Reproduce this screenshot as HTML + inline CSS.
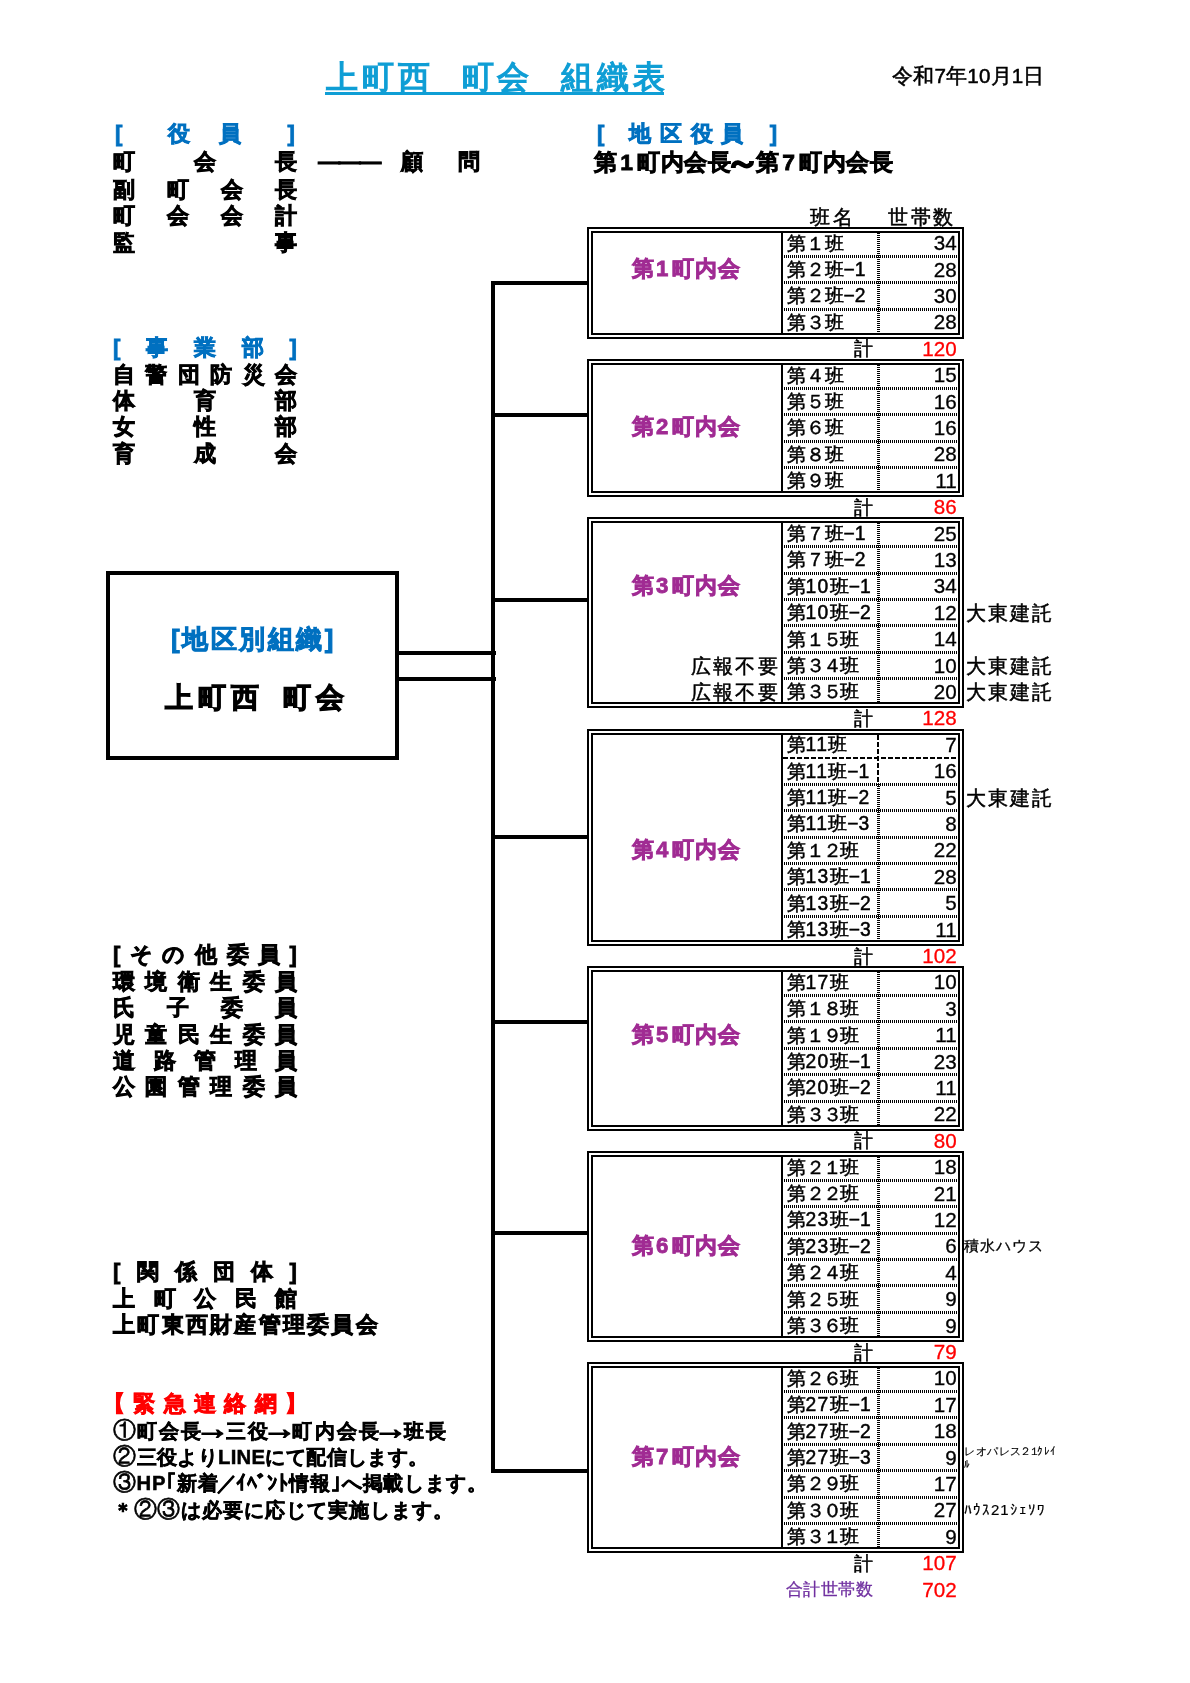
<!DOCTYPE html>
<html lang="ja">
<head>
<meta charset="utf-8">
<title>上町西 町会 組織表</title>
<style>
html,body{margin:0;padding:0;background:#fff;}
body{width:1190px;height:1683px;position:relative;overflow:hidden;will-change:transform;font-family:"Liberation Sans",sans-serif;color:#000;}
.abs,.l,.t,.n,.k,.lab,.note,.bx,.vl,.dv,.dh,.ln,.r{position:absolute;}
.l{left:113px;width:184px;height:26px;line-height:26px;font-size:22.2px;font-weight:bold;-webkit-text-stroke:0.8px;white-space:nowrap;text-align:justify;text-align-last:justify;}
.l.free{width:auto;text-align:left;text-align-last:auto;letter-spacing:1.3px;}
.blue{color:#0070C0;}
.red{color:#FF0000;}
.bx{left:587px;width:365px;border:6px double #000;}
.vl{left:781px;width:2px;background:#000;}
.dv{left:877px;width:3px;background:repeating-linear-gradient(180deg,#000 0,#000 1px,transparent 1px,transparent 2px);}
.dh{left:784px;width:173px;height:3px;background:repeating-linear-gradient(90deg,#000 0,#000 1px,transparent 1px,transparent 2px);}
.r{height:26px;line-height:26px;font-size:19.3px;letter-spacing:0;-webkit-text-stroke:0.5px;white-space:nowrap;}
.t{left:786.5px;height:26px;line-height:26px;font-size:19.3px;letter-spacing:0;-webkit-text-stroke:0.5px;white-space:nowrap;}
.n{left:880px;width:76.6px;height:26px;line-height:26px;font-size:20.6px;-webkit-text-stroke:0.3px;text-align:right;white-space:nowrap;margin-top:0.3px;}
.k{left:783px;width:90px;height:26px;line-height:26px;font-size:19.3px;-webkit-text-stroke:0.5px;text-align:right;}
.lab{left:590px;width:193px;height:26px;line-height:26px;font-size:22.2px;letter-spacing:1.3px;font-weight:bold;-webkit-text-stroke:0.8px;color:#A02B93;text-align:center;white-space:nowrap;}
.lab span{margin:0 2px 0 1px;}
.note{left:965.5px;height:26px;line-height:26px;font-size:19.8px;letter-spacing:2.3px;-webkit-text-stroke:0.5px;white-space:nowrap;}
.l.p{font-size:20.3px;-webkit-text-stroke:0.5px;}
.a{display:inline-block;transform:translateY(-2.5px) scale(1.7,1.5);-webkit-text-stroke:0.9px;}
.c{font-weight:normal;font-size:22.5px;letter-spacing:0;-webkit-text-stroke:0.7px;margin-right:0.5px;}
.d{margin:0 3px 0 2.5px;}
.h{letter-spacing:1.4px;}
.f{letter-spacing:-2px;}
.w{display:inline-block;transform:scale(1.55,1.5);}
.ln{background:#000;}
</style>
</head>
<body>
<div class="abs" id="title" style="left:326px;top:57px;height:40px;line-height:40px;font-size:32.2px;letter-spacing:3.9px;-webkit-text-stroke:1.4px;color:#0F9ED5;white-space:nowrap;word-spacing:15px;">上町西 町会 組織表</div>
<div class="abs" style="left:325px;top:92px;width:339px;height:3px;background:#0F9ED5;"></div>
<div class="r" id="date" style="left:892px;top:63px;font-size:20.6px;letter-spacing:0.2px;">令和7年10月1日</div>
<div class="l blue" style="left:115px;top:120.8px;text-align-last:auto;text-align:left;">[<span style="margin-left:46px">役</span><span style="margin-left:29px">員</span><span style="margin-left:46px">]</span></div>
<div class="l " style="top:149.4px;">町会長</div>
<div class="l free" style="left:318px;top:149.4px;letter-spacing:0;"><span style="letter-spacing:-1.6px">―――</span><span style="margin-left:21px">顧</span><span style="margin-left:35px">問</span></div>
<div class="l " style="top:176.7px;">副町会長</div>
<div class="l " style="top:203.1px;">町会会計</div>
<div class="l " style="top:229.5px;">監事</div>
<div class="l blue" style="top:335.1px;">[事業部]</div>
<div class="l " style="top:361.5px;">自警団防災会</div>
<div class="l " style="top:387.9px;">体育部</div>
<div class="l " style="top:414.3px;">女性部</div>
<div class="l " style="top:440.7px;">育成会</div>
<div class="l " style="top:942.3px;">[その他委員]</div>
<div class="l " style="top:968.7px;">環境衛生委員</div>
<div class="l " style="top:995.1px;">氏子委員</div>
<div class="l " style="top:1021.5px;">児童民生委員</div>
<div class="l " style="top:1047.9px;">道路管理員</div>
<div class="l " style="top:1074.3px;">公園管理委員</div>
<div class="l " style="top:1259.1px;">[関係団体]</div>
<div class="l " style="top:1285.5px;">上町公民館</div>
<div class="l free" style="top:1311.9px;letter-spacing:2.25px;">上町東西財産管理委員会</div>
<div class="l red" style="top:1391.1px;"><span style="margin-left:-10px">【</span>緊急連絡網<span style="margin-right:-10px">】</span></div>
<div class="l free p" style="top:1417.5px;letter-spacing:2.2px;"><span class="c">①</span>町会長<span class="a">→</span>三役<span class="a">→</span>町内会長<span class="a">→</span>班長</div>
<div class="l free p" style="top:1443.9px;letter-spacing:0.35px;"><span class="c">②</span>三役よりLINEにて配信します。</div>
<div class="l free p" style="top:1470.3px;letter-spacing:0.85px;"><span class="c">③</span>HP｢新着<span style="margin:0 -2px">／</span>ｲﾍﾞﾝﾄ情報｣へ掲載します。</div>
<div class="l free p" style="top:1496.7px;letter-spacing:1.0px;">＊<span class="c">②③</span>は必要に応じて実施します。</div>
<div class="l free blue" style="left:597px;top:120.8px;letter-spacing:0;">[<span style="margin-left:25px;letter-spacing:8.6px">地区役員</span><span style="margin-left:18px">]</span></div>
<div class="l free" style="left:594px;top:149.4px;font-size:22.9px;letter-spacing:0.8px;">第<span class="d">1</span>町内会長<span class="w">～</span>第<span class="d">7</span>町内会長</div>
<div class="r" style="left:810px;top:203.6px;font-size:19.5px;letter-spacing:2.7px;">班名</div>
<div class="r" style="left:888px;top:203.6px;font-size:19.5px;letter-spacing:2.7px;">世帯数</div>
<div class="abs bigbox" style="left:106px;top:571px;width:285px;height:181px;border:4px solid #000;"></div>
<div class="abs blue" style="left:110px;width:287px;top:623px;height:32px;line-height:32px;font-size:26px;letter-spacing:2.5px;font-weight:bold;-webkit-text-stroke:0.9px;text-align:center;white-space:nowrap;">[地区別組織]</div>
<div class="abs" style="left:113px;width:288px;top:678.5px;height:38px;line-height:38px;font-size:27.5px;letter-spacing:5px;font-weight:bold;-webkit-text-stroke:1.1px;text-align:center;white-space:nowrap;word-spacing:5.9px;">上町西 町会</div>
<div class="ln" style="left:399px;top:651px;width:97px;height:4px;"></div>
<div class="ln" style="left:399px;top:677px;width:97px;height:4px;"></div>
<div class="ln" style="left:491px;top:281px;width:4px;height:1192px;"></div>
<div class="ln" style="left:491px;top:281px;width:96px;height:4px;"></div>
<div class="ln" style="left:491px;top:413px;width:96px;height:4px;"></div>
<div class="ln" style="left:491px;top:598px;width:96px;height:4px;"></div>
<div class="ln" style="left:491px;top:835px;width:96px;height:4px;"></div>
<div class="ln" style="left:491px;top:1020px;width:96px;height:4px;"></div>
<div class="ln" style="left:491px;top:1231px;width:96px;height:4px;"></div>
<div class="ln" style="left:491px;top:1469px;width:96px;height:4px;"></div>
<div class="bx" style="top:227px;height:100px;"></div>
<div class="vl" style="top:233px;height:100px;"></div>
<div class="dv" style="top:233px;height:100px;"></div>
<div class="dh" style="top:255px;"></div>
<div class="dh" style="top:281px;"></div>
<div class="dh" style="top:308px;"></div>
<div class="lab" style="top:255.9px;">第<span>1</span>町内会</div>
<div class="t" style="top:230.5px;">第１班</div><div class="n" style="top:230.0px;">34</div>
<div class="t" style="top:256.9px;">第２班−1</div><div class="n" style="top:256.4px;">28</div>
<div class="t" style="top:283.3px;">第２班−2</div><div class="n" style="top:282.8px;">30</div>
<div class="t" style="top:309.7px;">第３班</div><div class="n" style="top:309.2px;">28</div>
<div class="k" style="top:336.4px;">計</div><div class="n red" style="top:335.6px;">120</div>
<div class="bx" style="top:359px;height:126px;"></div>
<div class="vl" style="top:365px;height:126px;"></div>
<div class="dv" style="top:365px;height:126px;"></div>
<div class="dh" style="top:387px;"></div>
<div class="dh" style="top:413px;"></div>
<div class="dh" style="top:440px;"></div>
<div class="dh" style="top:466px;"></div>
<div class="lab" style="top:414.3px;">第<span>2</span>町内会</div>
<div class="t" style="top:362.5px;">第４班</div><div class="n" style="top:362.0px;">15</div>
<div class="t" style="top:388.9px;">第５班</div><div class="n" style="top:388.4px;">16</div>
<div class="t" style="top:415.3px;">第６班</div><div class="n" style="top:414.8px;">16</div>
<div class="t" style="top:441.7px;">第８班</div><div class="n" style="top:441.2px;">28</div>
<div class="t" style="top:468.1px;">第９班</div><div class="n" style="top:467.6px;">11</div>
<div class="k" style="top:494.8px;">計</div><div class="n red" style="top:494.0px;">86</div>
<div class="bx" style="top:517px;height:179px;"></div>
<div class="vl" style="top:523px;height:179px;"></div>
<div class="dv" style="top:523px;height:179px;"></div>
<div class="dh" style="top:545px;"></div>
<div class="dh" style="top:572px;"></div>
<div class="dh" style="top:598px;"></div>
<div class="dh" style="top:624px;"></div>
<div class="dh" style="top:651px;"></div>
<div class="dh" style="top:677px;"></div>
<div class="lab" style="top:572.7px;">第<span>3</span>町内会</div>
<div class="t" style="top:520.9px;">第７班−1</div><div class="n" style="top:520.4px;">25</div>
<div class="t" style="top:547.3px;">第７班−2</div><div class="n" style="top:546.8px;">13</div>
<div class="t" style="top:573.7px;">第<span class="h">10</span>班−1</div><div class="n" style="top:573.2px;">34</div>
<div class="t" style="top:600.1px;">第<span class="h">10</span>班−2</div><div class="n" style="top:599.6px;">12</div>
<div class="t" style="top:626.5px;">第<span class="f">１５</span>班</div><div class="n" style="top:626.0px;">14</div>
<div class="t" style="top:652.9px;">第<span class="f">３４</span>班</div><div class="n" style="top:652.4px;">10</div>
<div class="t" style="top:679.3px;">第<span class="f">３５</span>班</div><div class="n" style="top:678.8px;">20</div>
<div class="k" style="top:706.0px;">計</div><div class="n red" style="top:705.2px;">128</div>
<div class="bx" style="top:729px;height:205px;"></div>
<div class="vl" style="top:735px;height:205px;"></div>
<div class="abs dsh" style="left:877px;width:2px;top:735px;height:49px;background:repeating-linear-gradient(180deg,#000 0,#000 5px,transparent 5px,transparent 7px);"></div>
<div class="dv" style="top:784px;height:156px;"></div>
<div class="abs dsh" style="left:783px;width:175px;top:757px;height:2px;background:repeating-linear-gradient(90deg,#000 0,#000 5px,transparent 5px,transparent 7px);"></div>
<div class="dh" style="top:783px;"></div>
<div class="dh" style="top:809px;"></div>
<div class="dh" style="top:836px;"></div>
<div class="dh" style="top:862px;"></div>
<div class="dh" style="top:888px;"></div>
<div class="dh" style="top:915px;"></div>
<div class="lab" style="top:836.7px;">第<span>4</span>町内会</div>
<div class="t" style="top:732.1px;">第<span class="h">11</span>班</div><div class="n" style="top:731.6px;">7</div>
<div class="t" style="top:758.5px;">第<span class="h">11</span>班−1</div><div class="n" style="top:758.0px;">16</div>
<div class="t" style="top:784.9px;">第<span class="h">11</span>班−2</div><div class="n" style="top:784.4px;">5</div>
<div class="t" style="top:811.3px;">第<span class="h">11</span>班−3</div><div class="n" style="top:810.8px;">8</div>
<div class="t" style="top:837.7px;">第<span class="f">１２</span>班</div><div class="n" style="top:837.2px;">22</div>
<div class="t" style="top:864.1px;">第<span class="h">13</span>班−1</div><div class="n" style="top:863.6px;">28</div>
<div class="t" style="top:890.5px;">第<span class="h">13</span>班−2</div><div class="n" style="top:890.0px;">5</div>
<div class="t" style="top:916.9px;">第<span class="h">13</span>班−3</div><div class="n" style="top:916.4px;">11</div>
<div class="k" style="top:943.6px;">計</div><div class="n red" style="top:942.8px;">102</div>
<div class="bx" style="top:966px;height:153px;"></div>
<div class="vl" style="top:972px;height:153px;"></div>
<div class="dv" style="top:972px;height:153px;"></div>
<div class="dh" style="top:994px;"></div>
<div class="dh" style="top:1020px;"></div>
<div class="dh" style="top:1047px;"></div>
<div class="dh" style="top:1073px;"></div>
<div class="dh" style="top:1100px;"></div>
<div class="lab" style="top:1021.5px;">第<span>5</span>町内会</div>
<div class="t" style="top:969.7px;">第<span class="h">17</span>班</div><div class="n" style="top:969.2px;">10</div>
<div class="t" style="top:996.1px;">第<span class="f">１８</span>班</div><div class="n" style="top:995.6px;">3</div>
<div class="t" style="top:1022.5px;">第<span class="f">１９</span>班</div><div class="n" style="top:1022.0px;">11</div>
<div class="t" style="top:1048.9px;">第<span class="h">20</span>班−1</div><div class="n" style="top:1048.4px;">23</div>
<div class="t" style="top:1075.3px;">第<span class="h">20</span>班−2</div><div class="n" style="top:1074.8px;">11</div>
<div class="t" style="top:1101.7px;">第<span class="f">３３</span>班</div><div class="n" style="top:1101.2px;">22</div>
<div class="k" style="top:1128.4px;">計</div><div class="n red" style="top:1127.6px;">80</div>
<div class="bx" style="top:1151px;height:179px;"></div>
<div class="vl" style="top:1157px;height:179px;"></div>
<div class="dv" style="top:1157px;height:179px;"></div>
<div class="dh" style="top:1179px;"></div>
<div class="dh" style="top:1205px;"></div>
<div class="dh" style="top:1232px;"></div>
<div class="dh" style="top:1258px;"></div>
<div class="dh" style="top:1284px;"></div>
<div class="dh" style="top:1311px;"></div>
<div class="lab" style="top:1232.7px;">第<span>6</span>町内会</div>
<div class="t" style="top:1154.5px;">第<span class="f">２１</span>班</div><div class="n" style="top:1154.0px;">18</div>
<div class="t" style="top:1180.9px;">第<span class="f">２２</span>班</div><div class="n" style="top:1180.4px;">21</div>
<div class="t" style="top:1207.3px;">第<span class="h">23</span>班−1</div><div class="n" style="top:1206.8px;">12</div>
<div class="t" style="top:1233.7px;">第<span class="h">23</span>班−2</div><div class="n" style="top:1233.2px;">6</div>
<div class="t" style="top:1260.1px;">第<span class="f">２４</span>班</div><div class="n" style="top:1259.6px;">4</div>
<div class="t" style="top:1286.5px;">第<span class="f">２５</span>班</div><div class="n" style="top:1286.0px;">9</div>
<div class="t" style="top:1312.9px;">第<span class="f">３６</span>班</div><div class="n" style="top:1312.4px;">9</div>
<div class="k" style="top:1339.6px;">計</div><div class="n red" style="top:1338.8px;">79</div>
<div class="bx" style="top:1362px;height:179px;"></div>
<div class="vl" style="top:1368px;height:179px;"></div>
<div class="dv" style="top:1368px;height:179px;"></div>
<div class="dh" style="top:1390px;"></div>
<div class="dh" style="top:1416px;"></div>
<div class="dh" style="top:1443px;"></div>
<div class="dh" style="top:1469px;"></div>
<div class="dh" style="top:1496px;"></div>
<div class="dh" style="top:1522px;"></div>
<div class="lab" style="top:1443.9px;">第<span>7</span>町内会</div>
<div class="t" style="top:1365.7px;">第<span class="f">２６</span>班</div><div class="n" style="top:1365.2px;">10</div>
<div class="t" style="top:1392.1px;">第<span class="h">27</span>班−1</div><div class="n" style="top:1391.6px;">17</div>
<div class="t" style="top:1418.5px;">第<span class="h">27</span>班−2</div><div class="n" style="top:1418.0px;">18</div>
<div class="t" style="top:1444.9px;">第<span class="h">27</span>班−3</div><div class="n" style="top:1444.4px;">9</div>
<div class="t" style="top:1471.3px;">第<span class="f">２９</span>班</div><div class="n" style="top:1470.8px;">17</div>
<div class="t" style="top:1497.7px;">第<span class="f">３０</span>班</div><div class="n" style="top:1497.2px;">27</div>
<div class="t" style="top:1524.1px;">第<span class="f">３１</span>班</div><div class="n" style="top:1523.6px;">9</div>
<div class="k" style="top:1550.8px;">計</div><div class="n red" style="top:1550.0px;">107</div>
<div class="r" style="left:590px;width:190px;top:652.9px;text-align:right;font-size:19.8px;letter-spacing:2.3px;">広報不要</div>
<div class="r" style="left:590px;width:190px;top:679.3px;text-align:right;font-size:19.8px;letter-spacing:2.3px;">広報不要</div>
<div class="note" style="top:600.0px;">大東建託</div>
<div class="note" style="top:652.8px;">大東建託</div>
<div class="note" style="top:679.2px;">大東建託</div>
<div class="note" style="top:784.8px;">大東建託</div>
<div class="note" style="top:1233.2px;font-size:14.5px;letter-spacing:1px;left:964px;-webkit-text-stroke:0.3px;">積水ハウス</div>
<div class="note" style="top:1445.4px;font-size:10.5px;letter-spacing:0.55px;-webkit-text-stroke:0.15px;left:964px;width:95px;height:26px;line-height:13px;white-space:normal;word-break:break-all;">レオパレス<span style="letter-spacing:-2.6px;margin-left:-1.5px">２１</span>ｸﾚｲﾙ</div>
<div class="note" style="top:1497.2px;font-size:15px;letter-spacing:1px;-webkit-text-stroke:0.2px;left:964px;">ﾊｳｽ21ｼｪｿﾜ</div>
<div class="r" style="left:786px;top:1576.4px;font-size:16.5px;letter-spacing:0.4px;-webkit-text-stroke:0.3px;color:#7030A0;">合計世帯数</div>
<div class="n red" style="top:1576.4px;">702</div>
</body>
</html>
